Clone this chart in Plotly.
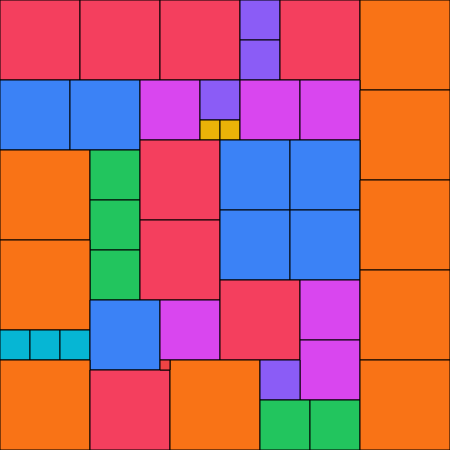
import plotly.graph_objects as go

# squares: left x, top y, side size
x0 = [0, 80, 160, 240, 240, 280, 360,
      0, 70, 140, 200, 200, 220, 240, 300, 360,
      0, 90, 90, 90, 140, 140, 220, 290, 220, 290, 360,
      0, 0, 30, 60, 90, 160, 220, 300, 300, 360,
      0, 90, 170, 260, 260, 310, 360, 160]
y0 = [0, 0, 0, 0, 40, 0, 0,
      80, 80, 80, 80, 120, 120, 80, 80, 90,
      150, 150, 200, 250, 140, 220, 140, 140, 210, 210, 180,
      240, 330, 330, 330, 300, 300, 280, 280, 340, 270,
      360, 370, 360, 360, 400, 400, 360, 360]
size = [80, 80, 80, 40, 40, 80, 90,
        70, 70, 60, 40, 20, 20, 60, 60, 90,
        90, 50, 50, 50, 80, 80, 70, 70, 70, 70, 90,
        90, 30, 30, 30, 70, 60, 80, 60, 60, 90,
        90, 80, 90, 40, 50, 50, 90, 10]

size_colors = {90: "#f97316", 80: "#f43f5e", 70: "#3b82f6", 60: "#d946ef",
               50: "#22c55e", 40: "#8b5cf6", 30: "#06b6d4", 20: "#eab308",
               10: "#ef4444"}

fig = go.Figure(go.Bar(
    x=[a + s / 2 for a, s in zip(x0, size)],
    y=size,
    base=y0,
    width=size,
    marker=dict(color=[size_colors[s] for s in size],
                line=dict(color="black", width=1)),
    hoverinfo="skip",
))
fig.update_layout(
    width=450, height=450,
    margin=dict(l=0, r=0, t=0, b=0),
    paper_bgcolor="white", plot_bgcolor="white",
    showlegend=False,
    xaxis=dict(range=[0, 450], visible=False, fixedrange=True),
    yaxis=dict(range=[450, 0], visible=False, fixedrange=True),
)
fig.write_html("out.html", config={"displayModeBar": False},
               post_script="document.body.style.margin='0';document.body.style.overflow='hidden';")
